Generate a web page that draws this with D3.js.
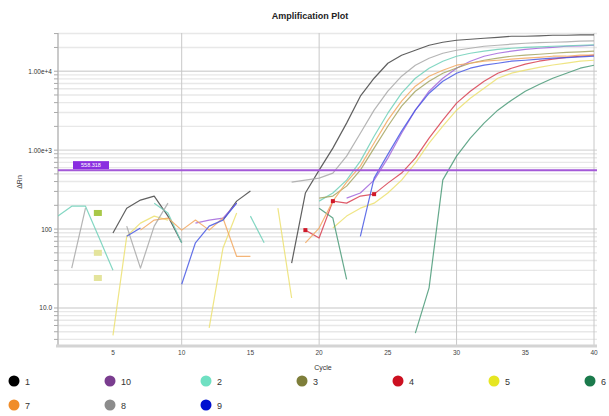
<!DOCTYPE html>
<html>
<head>
<meta charset="utf-8">
<script src="https://cdn.jsdelivr.net/npm/d3@7"></script>
<style>
  body { margin: 0; background: #fff; }
  svg { font-family: "Liberation Sans", Arial, sans-serif; }
</style>
</head>
<body>
<svg id="chart" width="609" height="416"></svg>
<script>
const cycles = d3.range(1, 41);
const sampleNames = ["1", "10", "2", "3", "4", "5", "6", "7", "8", "9"];
const sampleColors = ["#000000", "#7a3d8f", "#6fe0c2", "#7e7e3a", "#cc1020", "#e6e622", "#1b7a4c", "#f08c28", "#8c8c8c", "#0010d0"];
const lineColors = ["#444444", "#a266dc", "#6fd0b8", "#a4a460", "#d84050", "#ece070", "#4a9a78", "#f2a860", "#a8a8a8", "#4858e4"];

// delta Rn per cycle (cycles 1..40), null where the value is not drawn
const s1 = [null, null, null, null, 89, 184, 233, 262, 146, 67, null, null, 130, 226, 303, null, null, 37, 286, 558,
  1060, 2200, 4830, 8150, 12630, 15960, 18450, 21330, 23280, 24680, 25400, 26180, 26900, 27750, 27750, 28100, 28560, 28560, 28800, 28800];
const s10 = [null, null, null, null, null, null, null, null, null, null, 119, 130, 138, 213, null, null, null, null, null, null,
  null, 247, 286, 417, 792, 1640, 3210, 5580, 8150, 10920, 13390, 15490, 16900, 18000, 18900, 19540, 20100, 20710, 21000, 21330];
const s2 = [146, 195, 195, 77, 30, null, null, 213, 160, 67, null, null, null, null, 146, 67, null, null, null, 226,
  286, 417, 726, 1500, 2940, 5270, 8150, 10920, 13390, 15490, 16900, 18000, 18900, 19540, 20000, 20300, 20710, 21000, 21330, 21600];
const s3 = [null, null, null, null, null, null, null, null, null, null, null, null, null, null, null, null, null, null, null, 247,
  262, 350, 558, 1060, 2010, 3610, 5580, 7470, 9440, 11000, 12630, 13780, 14620, 15490, 15960, 16400, 16900, 17300, 17600, 18000];
const s4 = [null, null, null, null, null, null, null, null, null, null, null, null, null, null, null, null, null, null, 97, 77,
  226, 213, 262, 277, 382, 512, 792, 1420, 2400, 3940, 5580, 7470, 9440, 10920, 12300, 13390, 14200, 15000, 15490, 15960];
const s5 = [null, null, null, null, 4.5, 81, 119, 146, 130, null, null, 5.6, 57, 160, null, null, 184, 13.4, null, null,
  103, 146, 184, 213, 286, 417, 685, 1230, 2010, 3210, 4550, 6090, 8150, 9440, 10300, 11200, 12000, 12630, 13390, 13780];
const s6 = [null, null, null, null, null, null, null, null, null, null, null, null, null, null, null, null, null, null, null, 184,
  138, 23, null, null, null, null, 4.8, 18, 420, 840, 1420, 2200, 3210, 4300, 5580, 6800, 8150, 9440, 10920, 11900];
const s7 = [null, null, null, null, null, null, 97, 130, 138, 97, 130, 97, 138, 45, 45, null, null, null, 67, 103,
  226, 393, 627, 1230, 2400, 4170, 6460, 8650, 10300, 11920, 12630, 13390, 13780, 14200, 14620, 15000, 15490, 15490, 15960, 15960];
const s8 = [null, 32, 184, null, null, 109, 32, 109, 213, null, null, null, null, null, null, null, null, 393, 417, 442,
  512, 840, 1640, 3210, 5580, 8650, 11920, 14620, 16900, 18450, 19540, 20710, 21330, 22000, 22600, 23000, 23280, 23600, 24000, 24300];
const s9 = [null, null, null, null, null, 81, 103, null, null, 20, 67, 109, 130, 213, null, null, null, null, null, null,
  null, null, 81, 442, 884, 1740, 3210, 5270, 7470, 9440, 10920, 11920, 12630, 13390, 13780, 14200, 14620, 14900, 15200, 15490];
const seriesValues = [s1, s10, s2, s3, s4, s5, s6, s7, s8, s9];

const yTickValues = [10, 100, 1000, 10000];
const yTickLabels = ["10.0", "100", "1.00e+3", "1.00e+4"];
const xTickValues = [5, 10, 15, 20, 25, 30, 35, 40];
const thresholdValue = 558;
const thresholdLabel = "558.318";
// small Ct markers drawn on sample 4
const redMarkCycles = [19, 21, 24];
// small olive flags near cycle 4
const flagCycle = 3.9;
const flagValues = [160, 50, 24];

const svg = d3.select("#chart");
const x = d3.scaleLinear().domain([1, 40]).range([58, 594]);
const y = d3.scaleLog().domain([3.3, 30500]).range([346, 33]);

// horizontal grid at every minor log tick
const minor = [];
for (let k = 0; k <= 4; k++) {
  for (let m = 1; m <= 9; m++) {
    const v = m * Math.pow(10, k);
    if (v >= 3.3 && v <= 30500) minor.push(v);
  }
}
svg.append("g").selectAll("line").data(minor).enter().append("line")
  .attr("x1", 58).attr("x2", 597)
  .attr("y1", d => y(d)).attr("y2", d => y(d))
  .attr("stroke", d => yTickValues.includes(d) ? "#d8d8d8" : "#e8e8e8")
  .attr("stroke-width", 1.4);

// vertical grid
svg.append("g").selectAll("line").data([10, 20, 30, 40]).enter().append("line")
  .attr("x1", d => x(d)).attr("x2", d => x(d))
  .attr("y1", 33).attr("y2", 346)
  .attr("stroke", "#c8c8c8").attr("stroke-width", 1);

// axes
svg.append("line").attr("x1", 58).attr("x2", 58).attr("y1", 33).attr("y2", 346)
  .attr("stroke", "#b8b8b8").attr("stroke-width", 1.5);
svg.append("line").attr("x1", 56).attr("x2", 597).attr("y1", 346).attr("y2", 346)
  .attr("stroke", "#d4d4d4").attr("stroke-width", 3);

svg.append("g").selectAll("line").data(minor).enter().append("line")
  .attr("x1", 54).attr("x2", 58)
  .attr("y1", d => y(d)).attr("y2", d => y(d))
  .attr("stroke", "#aaa").attr("stroke-width", 1);

svg.append("g").selectAll("text").data(yTickValues).enter().append("text")
  .attr("x", 52).attr("y", d => y(d) + 2.5)
  .attr("text-anchor", "end").attr("font-size", 6.5).attr("fill", "#333")
  .text((d, i) => yTickLabels[i]);

svg.append("g").selectAll("text").data(xTickValues).enter().append("text")
  .attr("x", d => x(d)).attr("y", 355)
  .attr("text-anchor", "middle").attr("font-size", 6.5).attr("fill", "#444")
  .text(d => d);

// titles
svg.append("text").attr("x", 310).attr("y", 19).attr("text-anchor", "middle")
  .attr("font-size", 9).attr("font-weight", "bold").attr("fill", "#222").text("Amplification Plot");
svg.append("text").attr("x", 323).attr("y", 370).attr("text-anchor", "middle")
  .attr("font-size", 7).attr("fill", "#333").text("Cycle");
svg.append("text").attr("transform", "translate(22,182) rotate(-90)").attr("text-anchor", "middle")
  .attr("font-size", 7).attr("fill", "#333").text("ΔRn");

// series lines
svg.append("clipPath").attr("id", "plotClip").append("rect")
  .attr("x", 58).attr("y", 33).attr("width", 539).attr("height", 313);

const line = d3.line()
  .defined(d => d.v != null && d.v > 0)
  .x(d => x(d.c))
  .y(d => y(d.v));

const plot = svg.append("g").attr("clip-path", "url(#plotClip)");
plot.selectAll("path.series").data(seriesValues).enter().append("path")
  .attr("class", "series")
  .attr("fill", "none")
  .attr("stroke", (d, i) => lineColors[i])
  .attr("stroke-width", 1.2)
  .attr("stroke-opacity", 0.85)
  .attr("stroke-linejoin", "round")
  .attr("d", vals => line(vals.map((v, i) => ({ c: cycles[i], v: v }))));

// threshold
plot.append("line").attr("x1", 58).attr("x2", 597)
  .attr("y1", y(thresholdValue)).attr("y2", y(thresholdValue))
  .attr("stroke", "#a45ad8").attr("stroke-width", 2);
svg.append("rect").attr("x", 73).attr("y", y(thresholdValue) - 9).attr("width", 36).attr("height", 8)
  .attr("fill", "#8a2ee0");
svg.append("text").attr("x", 91).attr("y", y(thresholdValue) - 3).attr("text-anchor", "middle")
  .attr("font-size", 5.5).attr("fill", "#fff").text(thresholdLabel);

// red markers on sample 4
plot.selectAll("rect.redmark").data(redMarkCycles).enter().append("rect")
  .attr("class", "redmark")
  .attr("x", d => x(d) - 2).attr("y", d => y(s4[d - 1]) - 2)
  .attr("width", 4).attr("height", 4).attr("fill", "#d01828");

// olive flags
plot.selectAll("rect.flag").data(flagValues).enter().append("rect")
  .attr("class", "flag")
  .attr("x", x(flagCycle) - 4).attr("y", d => y(d) - 3)
  .attr("width", 8).attr("height", 6)
  .attr("fill", (d, i) => i === 0 ? "#a8c848" : "#e4e49c");

// legend
const legendItems = sampleNames.map((n, i) => ({ name: n, color: sampleColors[i], col: i % 7, row: Math.floor(i / 7) }));
const leg = svg.append("g").selectAll("g").data(legendItems).enter().append("g")
  .attr("transform", d => "translate(" + (14 + d.col * 96) + "," + (381 + d.row * 24) + ")");
leg.append("circle").attr("r", 5.5).attr("fill", d => d.color);
leg.append("text").attr("x", 11).attr("y", 3.5).attr("font-size", 9).attr("fill", "#333").text(d => d.name);
</script>
</body>
</html>
